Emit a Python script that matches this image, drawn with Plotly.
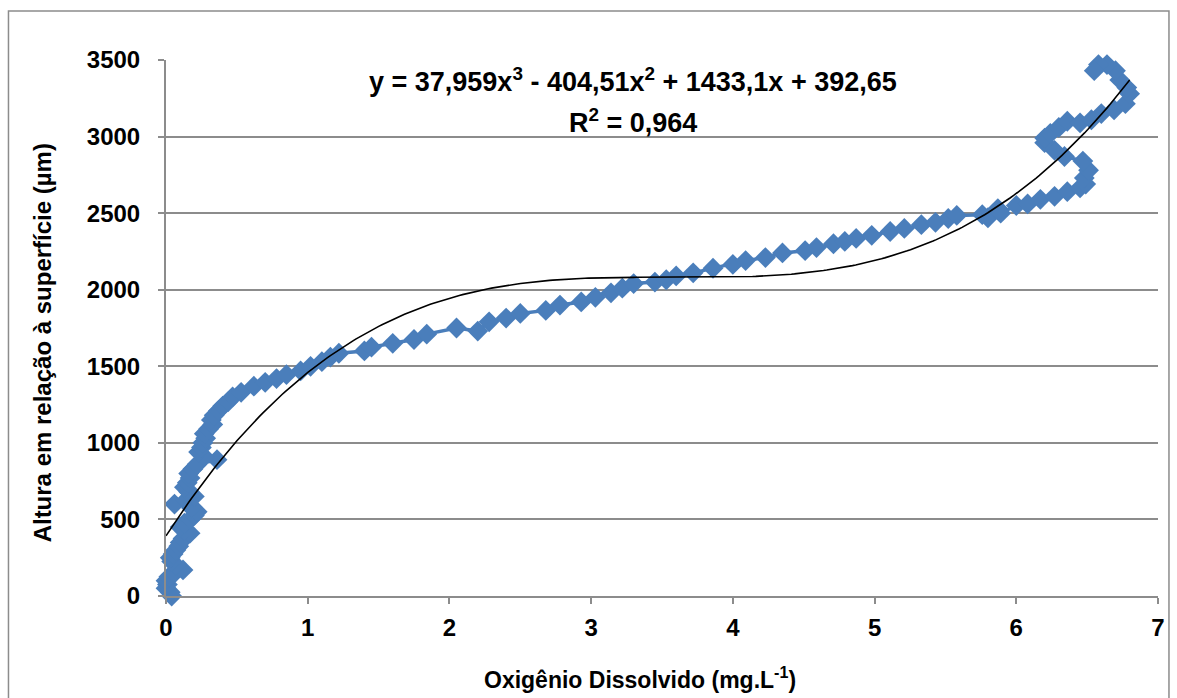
import plotly.graph_objects as go
import numpy as np

# Oxygen profile data
oxigenio = [0.04, 0.03, 0.00, 0.01, 0.00, 0.02, 0.06, 0.12, 0.07, 0.04, 0.03, 0.05, 0.07, 0.09,
            0.10, 0.12, 0.17, 0.13, 0.10, 0.13, 0.17, 0.20, 0.22, 0.18, 0.06, 0.14, 0.20, 0.16,
            0.13, 0.15, 0.17, 0.16, 0.19, 0.22, 0.36, 0.27, 0.23, 0.25, 0.26, 0.28, 0.27, 0.30,
            0.33, 0.32, 0.34, 0.37, 0.40, 0.44, 0.47, 0.53, 0.62, 0.70, 0.78, 0.85, 0.95, 1.02,
            1.10, 1.16, 1.22, 1.40, 1.45, 1.60, 1.75, 1.84, 2.05, 2.20, 2.28, 2.40, 2.50, 2.68,
            2.78, 2.93, 3.03, 3.14, 3.22, 3.30, 3.45, 3.53, 3.60, 3.72, 3.86, 4.00, 4.09, 4.23,
            4.35, 4.51, 4.59, 4.71, 4.79, 4.87, 4.98, 5.11, 5.21, 5.33, 5.43, 5.52, 5.58, 5.76,
            5.80, 5.87, 5.89, 6.00, 6.08, 6.17, 6.27, 6.36, 6.45, 6.49, 6.48, 6.51, 6.47, 6.34,
            6.27, 6.20, 6.20, 6.24, 6.30, 6.36, 6.45, 6.53, 6.60, 6.69, 6.77, 6.80, 6.78, 6.73,
            6.70, 6.64, 6.58, 6.55]
altura = [0, 25, 50, 75, 100, 125, 150, 170, 200, 225, 250, 275, 300, 325,
          350, 375, 410, 430, 450, 475, 500, 525, 550, 575, 600, 625, 650, 680,
          710, 740, 770, 800, 830, 860, 890, 910, 940, 970, 1000, 1030, 1060, 1090,
          1120, 1150, 1180, 1210, 1240, 1270, 1300, 1330, 1370, 1395, 1420, 1445, 1470, 1500,
          1530, 1560, 1585, 1600, 1625, 1650, 1675, 1710, 1750, 1730, 1790, 1815, 1845, 1865,
          1900, 1920, 1950, 1980, 2010, 2040, 2050, 2065, 2090, 2110, 2140, 2165, 2190, 2210,
          2240, 2255, 2275, 2300, 2315, 2335, 2355, 2380, 2400, 2425, 2440, 2465, 2485, 2490,
          2470, 2530, 2500, 2550, 2560, 2590, 2610, 2640, 2665, 2690, 2730, 2780, 2840, 2870,
          2910, 2960, 2990, 3020, 3060, 3100, 3090, 3110, 3150, 3175, 3215, 3280, 3320, 3370,
          3430, 3470, 3470, 3430]

# Polynomial trendline coefficients (as displayed)
coef = [37.959, -404.51, 1433.1, 392.65]
eq_text = "y = 37,959x<sup>3</sup> - 404,51x<sup>2</sup> + 1433,1x + 392,65"
r2_text = "R<sup>2</sup> = 0,964"

x_ticks = [0, 1, 2, 3, 4, 5, 6, 7]
y_ticks = [0, 500, 1000, 1500, 2000, 2500, 3000, 3500]

FONT = "Liberation Sans, Arial, sans-serif"
BLUE = "#4A7EBB"
GRID = "#8C8C8C"

xt = np.linspace(0, max(oxigenio), 300)
yt = np.polyval(coef, xt)

fig = go.Figure()
fig.add_trace(go.Scatter(
    x=oxigenio, y=altura, mode="lines+markers",
    line=dict(color=BLUE, width=3.5),
    marker=dict(symbol="diamond", size=16, color=BLUE),
    cliponaxis=False, showlegend=False))
fig.add_trace(go.Scatter(
    x=xt, y=yt, mode="lines", line=dict(color="black", width=1.6),
    showlegend=False, cliponaxis=False))

tickfont = dict(family=FONT, size=24, color="black", weight="bold")

fig.update_layout(
    width=1177, height=698,
    margin=dict(l=166, r=16, t=60, b=102),
    paper_bgcolor="white", plot_bgcolor="white",
    font=dict(family=FONT, size=22, color="black"),
    xaxis=dict(range=[0, 7], tickvals=x_ticks, ticks="outside", ticklen=6,
               tickcolor=GRID, tickwidth=2, showline=True, linecolor=GRID, linewidth=2,
               showgrid=False, zeroline=False,
               tickfont=tickfont, ticklabelstandoff=3),
    yaxis=dict(range=[0, 3500], tickvals=y_ticks, ticks="outside", ticklen=6,
               tickcolor=GRID, tickwidth=2, showline=True, linecolor=GRID, linewidth=2,
               showgrid=True, gridcolor=GRID, gridwidth=2, zeroline=False,
               tickfont=tickfont, ticklabelstandoff=13),
    shapes=[dict(type="rect", xref="paper", yref="paper",
                 x0=(8 - 166) / 995, x1=(1172 - 166) / 995,
                 y0=(596 - 720) / 536, y1=(596 - 11) / 536,
                 line=dict(color=GRID, width=1.5), fillcolor="rgba(0,0,0,0)", layer="below")],
    annotations=[
        dict(text="<b>" + eq_text + "</b>", xref="paper", yref="paper",
             x=(634 - 166) / 995, y=(596 - 80) / 536, showarrow=False,
             font=dict(family=FONT, size=27), xanchor="center", yanchor="middle"),
        dict(text="<b>" + r2_text + "</b>", xref="paper", yref="paper",
             x=(634 - 166) / 995, y=(596 - 121) / 536, showarrow=False,
             font=dict(family=FONT, size=27), xanchor="center", yanchor="middle"),
        dict(text="<b>Oxigênio Dissolvido (mg.L<sup>-1</sup>)</b>", xref="paper", yref="paper",
             x=(641 - 166) / 995, y=(596 - 678) / 536, showarrow=False,
             font=dict(family=FONT, size=23), xanchor="center", yanchor="middle"),
        dict(text="<b>Altura em relação à superfície (µm)</b>", xref="paper", yref="paper",
             x=(42 - 166) / 995, y=(596 - 343) / 536, showarrow=False, textangle=-90,
             font=dict(family=FONT, size=24), xanchor="center", yanchor="middle"),
    ],
)

fig.write_html("out.html")
